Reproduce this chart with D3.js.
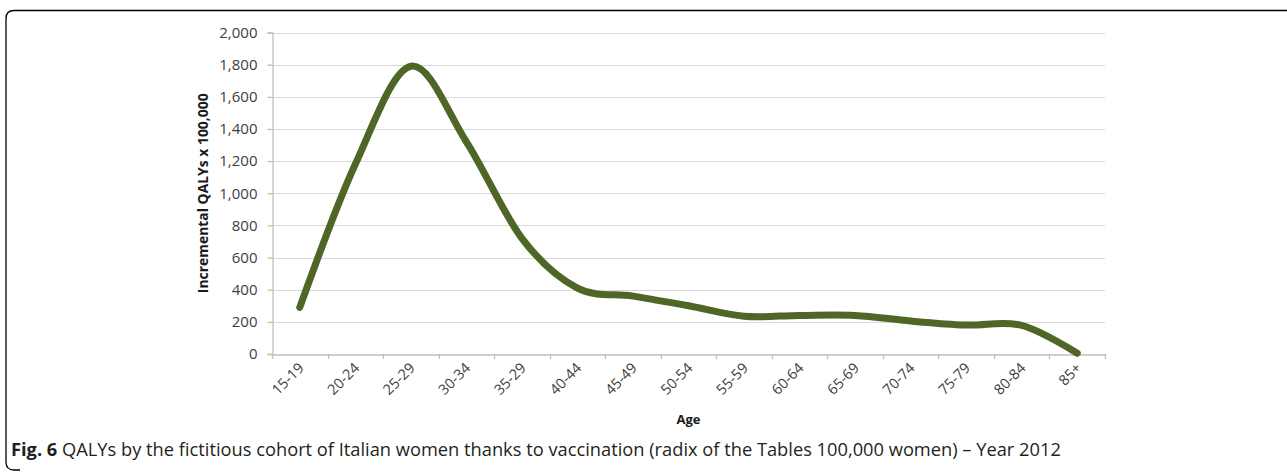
<!DOCTYPE html>
<html><head><meta charset="utf-8">
<script src="https://cdn.jsdelivr.net/npm/d3@7/dist/d3.min.js"></script>
<style>
html,body{margin:0;padding:0;background:#fff;}
svg{display:block;}
</style></head>
<body>
<svg id="chart" width="1287" height="472"></svg>
<script>
const categories = ["15-19","20-24","25-29","30-34","35-29","40-44","45-49","50-54","55-59","60-64","65-69","70-74","75-79","80-84","85+"];
const values = [290, 1180, 1790, 1320, 720, 410, 360, 300, 235, 240, 240, 205, 180, 178, 5];
const yTicks = [0,200,400,600,800,1000,1200,1400,1600,1800,2000];
const yTitle = "Incremental QALYs x 100,000";
const xTitle = "Age";
const captionBold = "Fig. 6";
const captionText = " QALYs by the fictitious cohort of Italian women thanks to vaccination (radix of the Tables 100,000 women) \u2013 Year 2012";

const svg = d3.select("#chart");
const L = 272, R = 1105, T = 32.5, B = 354;
const FONT = "'Open Sans', sans-serif";

// border
svg.append("path")
  .attr("d", "M1287,10.5 H14 Q6,10.5 6,18.5 V462 Q6,470 14,470 H20")
  .attr("fill","none").attr("stroke","#000").attr("stroke-width",1.3);

const x = d3.scaleBand().domain(categories).range([L,R]).padding(0);
const y = d3.scaleLinear().domain([0,2000]).range([B,T]);

// gridlines
svg.append("g").selectAll("line").data(yTicks.filter(d=>d>0)).join("line")
  .attr("x1",L).attr("x2",R)
  .attr("y1",d=>Math.round(y(d))+0.5).attr("y2",d=>Math.round(y(d))+0.5)
  .attr("stroke","#d9d9d9").attr("stroke-width",1.2);

// y axis
const yAxis = svg.append("g").attr("transform",`translate(${L+0.5},0)`)
  .call(d3.axisLeft(y).tickValues(yTicks).tickSize(5).tickPadding(10).tickFormat(d3.format(",")));
yAxis.select(".domain").attr("stroke","#bfbfbf").attr("stroke-width",1.3);
yAxis.selectAll(".tick line").attr("stroke","#bfbfbf").attr("stroke-width",1.3);
yAxis.selectAll(".tick text").attr("fill","#404040")
  .style("font-family",FONT).style("font-size","15px");

// x axis
const xAxis = svg.append("g").attr("transform",`translate(0,${B+0.5})`)
  .call(d3.axisBottom(x).tickSize(0).tickFormat(""));
xAxis.select(".domain").attr("stroke","#bfbfbf").attr("stroke-width",1.3);
xAxis.selectAll(".tick").remove();
// boundary ticks
const bounds = categories.map(c=>x(c)).concat([R]);
svg.append("g").selectAll("line").data(bounds).join("line")
  .attr("x1",d=>Math.round(d)+0.5).attr("x2",d=>Math.round(d)+0.5)
  .attr("y1",B).attr("y2",B+5)
  .attr("stroke","#bfbfbf").attr("stroke-width",1.3);
// x labels
svg.append("g").selectAll("text").data(categories).join("text")
  .attr("transform",d=>`translate(${x(d)+x.bandwidth()/2+5},${B+15}) rotate(-45)`)
  .attr("text-anchor","end")
  .attr("fill","#404040")
  .style("font-family",FONT).style("font-size","14.5px")
  .text(d=>d);

// axis titles
const yt = svg.append("text")
  .attr("transform",`translate(208,${(T+B)/2}) rotate(-90)`)
  .attr("text-anchor","middle")
  .attr("fill","#1a1a1a")
  .style("font-family",FONT).style("font-size","13px").style("font-weight","bold")
  .text(yTitle);
const ytw = yt.node().getComputedTextLength();
if (ytw > 0) yt.style("font-size", (13*200/ytw).toFixed(2)+"px");

svg.append("text")
  .attr("x",(L+R)/2).attr("y",424)
  .attr("text-anchor","middle")
  .attr("fill","#1a1a1a")
  .style("font-family",FONT).style("font-size","13px").style("font-weight","bold")
  .text(xTitle);

// line
const line = d3.line()
  .x((d,i)=>x(categories[i])+x.bandwidth()/2)
  .y(d=>y(d))
  .curve(d3.curveCardinal.tension(0));
svg.append("path").datum(values)
  .attr("d",line)
  .attr("fill","none")
  .attr("stroke","#4f6726")
  .attr("stroke-width",7)
  .attr("stroke-linecap","round")
  .attr("stroke-linejoin","round");

// caption
const cap = svg.append("text").attr("x",11).attr("y",456)
  .attr("fill","#231f20")
  .style("font-family",FONT).style("font-size","15px");
cap.append("tspan").style("font-weight","bold").text(captionBold);
cap.append("tspan").text(captionText);
const w = cap.node().getComputedTextLength();
const target = 1050;
if (w > 0) cap.style("font-size", (15 * target / w).toFixed(2)+"px");
</script>
</body></html>
